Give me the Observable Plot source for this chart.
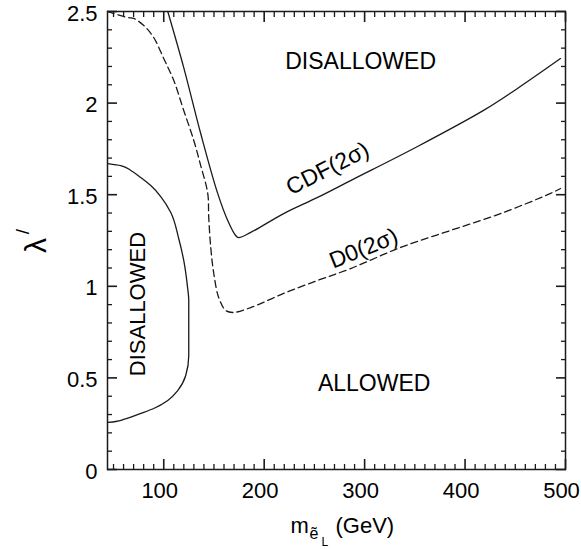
<!DOCTYPE html>
<html>
<head>
<meta charset="utf-8">
<script src="https://cdn.jsdelivr.net/npm/d3@7"></script>
<script src="https://cdn.jsdelivr.net/npm/@observablehq/plot@0.6"></script>
<style>
  html, body { margin: 0; padding: 0; background: #fff; }
</style>
</head>
<body>
<div id="chart"></div>
<script>
// ---- data ----
// CDF (2 sigma) exclusion contour, solid
const cdfM = [104, 119.9, 136.8, 153.7, 163.7, 171.6, 174.6, 186.6, 219.4, 253.2, 286.1, 352.7, 418.4, 452.2, 495];
const cdfL = [2.5, 2.194, 1.834, 1.507, 1.359, 1.277, 1.266, 1.294, 1.397, 1.485, 1.577, 1.763, 1.960, 2.080, 2.243];

// D0 (2 sigma) exclusion contour, dashed
const d0M = [44, 64.2, 70.1, 80.1, 90, 100, 110, 119.9, 129.9, 136.8, 143.8, 144.8, 146.8, 149.8, 154.7, 161.7, 168.7, 186.6, 219.4, 253.2, 286.1, 335.8, 385.6, 435.3, 485.1, 495];
const d0L = [2.5, 2.467, 2.462, 2.424, 2.358, 2.243, 2.123, 1.96, 1.796, 1.659, 1.507, 1.376, 1.212, 1.07, 0.939, 0.868, 0.857, 0.884, 0.961, 1.032, 1.097, 1.212, 1.305, 1.397, 1.507, 1.534];

// low-mass disallowed region boundary, solid
const lowM = [44.3, 57.2, 67.2, 77.1, 87.1, 97, 107, 114.9, 119.9, 123.5, 124.9, 124.9, 124.9, 121.9, 113.9, 104, 90, 77.1, 60.2, 52.2, 44.3];
const lowL = [1.670, 1.659, 1.632, 1.594, 1.550, 1.490, 1.403, 1.261, 1.141, 1.004, 0.922, 0.77, 0.622, 0.513, 0.431, 0.377, 0.333, 0.306, 0.273, 0.262, 0.257];

// axis ticks
const xTicks = [100, 200, 300, 400, 500];
const yTicks = [0, 0.5, 1, 1.5, 2, 2.5];
const xMinor = [50, 60, 70, 80, 90, 110, 120, 130, 140, 150, 160, 170, 180, 190, 210, 220, 230, 240, 250, 260, 270, 280, 290,
  310, 320, 330, 340, 350, 360, 370, 380, 390, 410, 420, 430, 440, 450, 460, 470, 480, 490];
const yMinor = [0.1, 0.2, 0.3, 0.4, 0.6, 0.7, 0.8, 0.9, 1.1, 1.2, 1.3, 1.4, 1.6, 1.7, 1.8, 1.9, 2.1, 2.2, 2.3, 2.4];

// region / curve labels
const labelText = ["DISALLOWED", "ALLOWED", "DISALLOWED", "CDF(2σ)", "D0(2σ)"];
const labelM = [296, 309.5, 74.6, 263.2, 299];
const labelL = [2.224, 0.47, 0.903, 1.643, 1.206];

const zip = (a, b) => a.map((v, i) => ({m: v, l: b[i]}));
const cdf = zip(cdfM, cdfL);
const d0 = zip(d0M, d0L);
const low = zip(lowM, lowL);
const labels = labelText.map((t, i) => ({text: t, m: labelM[i], l: labelL[i]}));

const ink = "#1a1a1a";
const font = "'Liberation Sans', Arial, Helvetica, sans-serif";
const xDom = [44, 500], yDom = [0, 2.5];
const blank = () => "";

// inward tick marks on all four sides, drawn by Plot's own axis marks
const tickAxes = [];
for (const [anchor, ticks, size, w] of [["bottom", xTicks, 10, 1.6], ["top", xTicks, 10, 1.6], ["bottom", xMinor, 5, 1.3], ["top", xMinor, 5, 1.3]]) {
  tickAxes.push(Plot.axisX({anchor, ticks, tickSize: -size, tickPadding: 0, tickFormat: blank, label: null, stroke: ink, strokeWidth: w}));
}
for (const [anchor, ticks, size, w] of [["left", yTicks, 10, 1.6], ["right", yTicks, 10, 1.6], ["left", yMinor, 5, 1.3], ["right", yMinor, 5, 1.3]]) {
  tickAxes.push(Plot.axisY({anchor, ticks, tickSize: -size, tickPadding: 0, tickFormat: blank, label: null, stroke: ink, strokeWidth: w}));
}

const chart = Plot.plot({
  width: 581,
  height: 549,
  marginLeft: 107,
  marginRight: 16,
  marginTop: 11,
  marginBottom: 80,
  x: {domain: xDom},
  y: {domain: yDom},
  style: {fontFamily: font, fontSize: "22px"},
  marks: [
    Plot.frame({stroke: ink, strokeWidth: 1.5}),
    // tick labels
    Plot.axisX({ticks: xTicks, tickSize: 0, tickPadding: 13, label: null, dx: -4}),
    Plot.axisY({ticks: yTicks, tickSize: 0, tickPadding: 10, label: null, dy: 2, tickFormat: d => String(d)}),
    ...tickAxes,
    // curves
    Plot.line(low, {x: "m", y: "l", stroke: ink, strokeWidth: 1.3, curve: "monotone-y"}),
    Plot.line(cdf, {x: "m", y: "l", stroke: ink, strokeWidth: 1.3, curve: "catmull-rom"}),
    Plot.line(d0, {x: "m", y: "l", stroke: ink, strokeWidth: 1.3, strokeDasharray: "7,4", curve: "catmull-rom"}),
    // labels
    Plot.text([labels[0]], {x: "m", y: "l", text: "text", fontSize: 23, lineAnchor: "middle"}),
    Plot.text([labels[1]], {x: "m", y: "l", text: "text", fontSize: 23, lineAnchor: "middle"}),
    Plot.text([labels[2]], {x: "m", y: "l", text: "text", fontSize: 22, lineAnchor: "middle", rotate: -90}),
    Plot.text([labels[3]], {x: "m", y: "l", text: "text", fontSize: 23, lineAnchor: "middle", rotate: -27}),
    Plot.text([labels[4]], {x: "m", y: "l", text: "text", fontSize: 23, lineAnchor: "middle", rotate: -22}),
    // x axis title: m_{ẽ_L} (GeV)
    Plot.text(["m"], {frameAnchor: "bottom-left", text: d => d, textAnchor: "start", lineAnchor: "middle", dx: 183, dy: 56, fontSize: 22}),
    Plot.text(["ẽ"], {frameAnchor: "bottom-left", text: d => d, textAnchor: "start", lineAnchor: "middle", dx: 202, dy: 64, fontSize: 16}),
    Plot.text(["L"], {frameAnchor: "bottom-left", text: d => d, textAnchor: "start", lineAnchor: "middle", dx: 214, dy: 73, fontSize: 12}),
    Plot.text(["(GeV)"], {frameAnchor: "bottom-left", text: d => d, textAnchor: "start", lineAnchor: "middle", dx: 228, dy: 56, fontSize: 22}),
    // y axis title: λ'
    Plot.text(["λ"], {frameAnchor: "left", text: d => d, textAnchor: "middle", lineAnchor: "middle", dx: -71, dy: 5, rotate: -90, fontSize: 30}),
    Plot.text(["/"], {frameAnchor: "left", text: d => d, textAnchor: "middle", lineAnchor: "middle", dx: -85, dy: -9, rotate: -90, fontSize: 19})
  ]
});

document.getElementById("chart").appendChild(chart);
</script>
</body>
</html>
